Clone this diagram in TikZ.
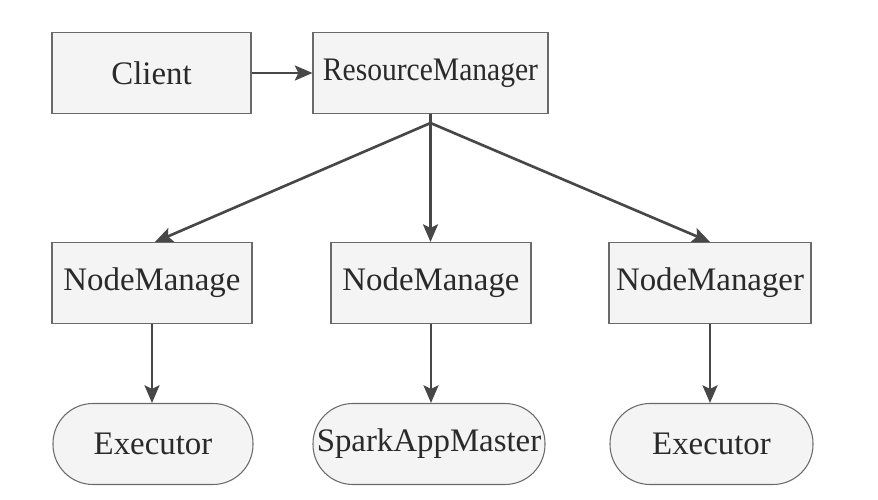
\documentclass[tikz,border=0pt]{standalone}
\usepackage{fontspec}
\setmainfont{Liberation Serif}
\usepackage{tikz}
\usetikzlibrary{arrows.meta,calc}
\definecolor{linegray}{HTML}{474747}
\definecolor{boxborder}{HTML}{6A6A6A}
\definecolor{boxfill}{HTML}{F4F4F4}
\definecolor{textgray}{HTML}{2A2A2A}

\begin{document}
\begin{tikzpicture}[font=\fontsize{18.7}{22}\selectfont,
  box/.style={draw=boxborder,fill=boxfill,line width=0.6pt,text=textgray,
              inner sep=0pt,minimum height=1.62cm},
  pill/.style={box,rounded corners=0.8cm},
  flow/.style={-{Stealth[length=10pt,width=8.5pt,inset=2pt]},line width=1.5pt,linegray}]

\useasboundingbox[fill=white] (0,0) rectangle (17.56,-10);

% top row
\node[box,minimum width=3.98cm] (client) at (3.03,-1.46) {Client};
\node[box,minimum width=4.70cm] (rm) at (8.61,-1.46)
      {\scalebox{0.9}[1]{ResourceManager}};
\coordinate (split) at ($(rm.south)+(0,-0.18)$);

% node managers
\node[box,minimum width=4.00cm] (nmleft) at (3.04,-5.66) {NodeManage};
\node[box,minimum width=4.00cm] (nmmid) at (8.62,-5.66) {NodeManage};
\node[box,minimum width=4.04cm] (nmright) at (14.20,-5.66) {NodeManager};

% workers
\node[pill,minimum width=4.00cm] (exleft) at (3.06,-8.88) {Executor};
\node[pill,minimum width=4.64cm] (master) at (8.58,-8.88) {SparkAppMaster};
\node[pill,minimum width=4.06cm] (exright) at (14.23,-8.88) {Executor};

\draw[flow] (client.east) -- (rm.west);
\draw[line width=1.5pt,linegray] (rm.south) -- (split);
\draw[flow] (split) -- ($(nmleft.north)+(0.06,0)$);
\draw[flow] (split) -- (split |- nmmid.north);
\draw[flow] (split) -- (nmright.north);
\draw[flow] (nmleft.south) -- (nmleft.south |- exleft.north);
\draw[flow] (nmmid.south) -- (nmmid.south |- master.north);
\draw[flow] (nmright.south) -- (nmright.south |- exright.north);

\end{tikzpicture}
\end{document}
